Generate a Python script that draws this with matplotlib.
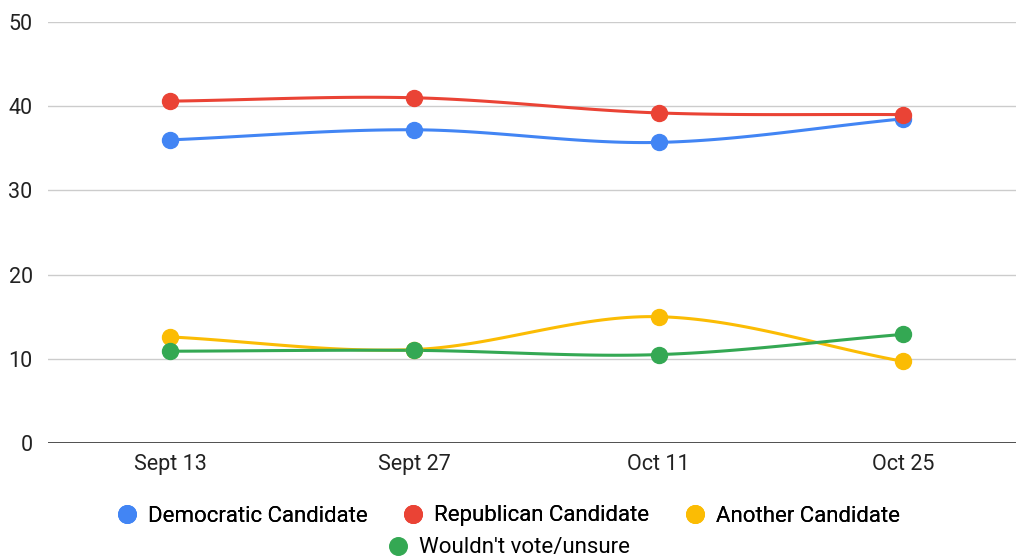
import numpy as np
import matplotlib.pyplot as plt

plt.rcParams['font.family'] = ['Roboto', 'DejaVu Sans']

# poll values
dates = ['Sept 13', 'Sept 27', 'Oct 11', 'Oct 25']
democratic = [36.0, 37.2, 35.7, 38.5]
republican = [40.6, 41.0, 39.2, 39.0]
another = [12.6, 11.1, 15.0, 9.7]
wouldnt = [10.9, 11.0, 10.5, 12.9]

series = [
    ('Democratic Candidate', democratic, '#4285F4'),
    ('Republican Candidate', republican, '#EA4335'),
    ('Another Candidate', another, '#FBBC04'),
    ("Wouldn't vote/unsure", wouldnt, '#34A853'),
]


def smooth(x, y, n=40):
    # cubic hermite (catmull-rom style) just for drawing the curved line
    x = np.asarray(x, float)
    y = np.asarray(y, float)
    m = np.gradient(y, x)
    xs, ys = [], []
    for i in range(len(x) - 1):
        h = x[i + 1] - x[i]
        t = np.linspace(0, 1, n)
        h00 = 2*t**3 - 3*t**2 + 1
        h10 = t**3 - 2*t**2 + t
        h01 = -2*t**3 + 3*t**2
        h11 = t**3 - t**2
        xs.append(x[i] + t*h)
        ys.append(h00*y[i] + h10*h*m[i] + h01*y[i + 1] + h11*h*m[i + 1])
    return np.concatenate(xs), np.concatenate(ys)


fig = plt.figure(figsize=(10.16, 5.59), dpi=100)
ax = fig.add_axes([48/1016, 116/559, 977/1016, 421/559])

xpos = np.arange(len(dates))
handles = []
for name, vals, col in series:
    sx, sy = smooth(xpos, vals)
    ax.plot(sx, sy, color=col, lw=2.2, zorder=3)
    h, = ax.plot(xpos, vals, 'o', color=col, ms=11.5, zorder=4, label=name)
    handles.append(h)

ax.set_xlim(-0.5, 3.5)
ax.set_ylim(0, 50)
ax.set_yticks([0, 10, 20, 30, 40, 50])
ax.set_xticks(xpos)
ax.set_xticklabels(dates)
ax.grid(axis='y', color='#cccccc', lw=1)
ax.set_axisbelow(True)
for s in ax.spines.values():
    s.set_visible(False)
ax.axhline(0, color='#333333', lw=1.2, zorder=2)
ax.tick_params(length=0, labelsize=15.5, colors='#222222')
ax.tick_params(axis='x', pad=8)
ax.tick_params(axis='y', pad=11)

leg1 = fig.legend(handles=handles[:3], loc='center', bbox_to_anchor=(0.5, 1 - 516/559),
                  ncol=3, frameon=False, fontsize=16, handletextpad=0.45, columnspacing=1.55,
                  handlelength=1.0, markerscale=1.1)
fig.add_artist(leg1)
fig.legend(handles=handles[3:], loc='center', bbox_to_anchor=(0.5, 1 - 548/559),
           frameon=False, fontsize=16, handletextpad=0.45, handlelength=1.0, markerscale=1.1)

fig.savefig('out.png', dpi=100)
